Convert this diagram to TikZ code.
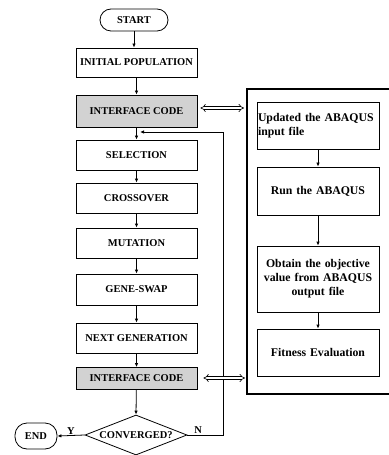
\documentclass[tikz,border=0pt]{standalone}
\usepackage{fontspec}
\setmainfont{Liberation Serif}
\usetikzlibrary{shapes.geometric,arrows.meta}
\begin{document}
\begin{tikzpicture}[x=1bp,y=-1bp,
  lbl/.style={font=\fontsize{10.5}{11}\selectfont\bfseries},
  rlbl/.style={font=\fontsize{11.8}{14}\selectfont\bfseries},
  stepbox/.style={draw,line width=0.8pt,minimum width=121bp,minimum height=30bp,inner sep=0pt,lbl},
  ifbox/.style={stepbox,fill=gray!35},
  rbox/.style={draw,line width=0.8pt,minimum width=122bp,inner sep=1pt,rlbl,align=center,text width=120bp},
  term/.style={draw,line width=0.8pt,rounded corners=11bp,inner sep=0pt,lbl},
  arr/.style={-{Latex[length=4bp,width=3.5bp]},line width=0.8pt},
  dbl/.style={double,double distance=2.2bp,line width=0.6pt,{Implies}-{Implies}}]
\useasboundingbox (0,0) rectangle (388,455);
\node[term,minimum width=68bp,minimum height=22bp] (start) at (134,20) {START};
\node[stepbox,minimum height=29bp] (init) at (136.5,62.5) {INITIAL POPULATION};
\node[ifbox,minimum height=32bp] (if1) at (136.5,111) {INTERFACE CODE};
\node[stepbox] (sel) at (136.5,155) {SELECTION};
\node[stepbox] (cross) at (136.5,198) {CROSSOVER};
\node[stepbox] (mut) at (136.5,243) {MUTATION};
\node[stepbox,minimum height=31bp] (gene) at (136.5,289.5) {GENE-SWAP};
\node[stepbox] (next) at (136.5,338) {NEXT GENERATION};
\node[ifbox,minimum height=22bp] (if2) at (136.5,378.5) {INTERFACE CODE};
\node[draw,line width=0.8pt,diamond,aspect=2.55,minimum width=102bp,minimum height=40bp,inner sep=0pt,lbl] (conv) at (136,435) {CONVERGED?};
\node[term,minimum width=42bp,minimum height=26bp,rounded corners=12bp] (end) at (36,436) {END};

\draw[arr] (start) -- (start|-init.north);
\draw[arr] (init) -- (init|-if1.north);
\draw[arr] (if1) -- (if1|-sel.north);
\draw[arr] (sel) -- (sel|-cross.north);
\draw[arr] (cross) -- (cross|-mut.north);
\draw[arr] (mut) -- (mut|-gene.north);
\draw[arr] (gene) -- (gene|-next.north);
\draw[arr] (next) -- (next|-if2.north);
\draw[arr] (if2) -- (conv.north);
\draw[arr] (conv.west) -- node[above,lbl,inner sep=1pt,pos=0.5]{Y} (end.east);
\coordinate (fbin) at (140,132);
\draw[arr] (conv.east) -- node[above,lbl,inner sep=1pt,pos=0.3]{N} (223,435) |- (fbin);

% right panel
\draw[line width=1.1pt] (390,89) -| (247,394) -- (390,394);
\node[rbox,minimum height=47bp,align=left] (r1) at (318,125.5) {Updated the ABAQUS\\input file};
\node[rbox,minimum height=48bp] (r2) at (318,191) {Run the ABAQUS};
\node[rbox,minimum height=66bp] (r3) at (318,279) {Obtain the objective\\value from ABAQUS\\output file};
\node[rbox,minimum height=47bp] (r4) at (318,352.5) {Fitness Evaluation};
\draw[arr] (r1) -- (r2);
\draw[arr] (r2) -- (r3);
\draw[arr] (r3) -- (r4);
\coordinate (p1) at (244,108);
\coordinate (p2) at (245,378);
\draw[dbl] (if1.east|-p1) ++(3,0) -- (p1);
\draw[dbl] (if2.east|-p2) ++(6,0) -- (p2);
\end{tikzpicture}
\end{document}
